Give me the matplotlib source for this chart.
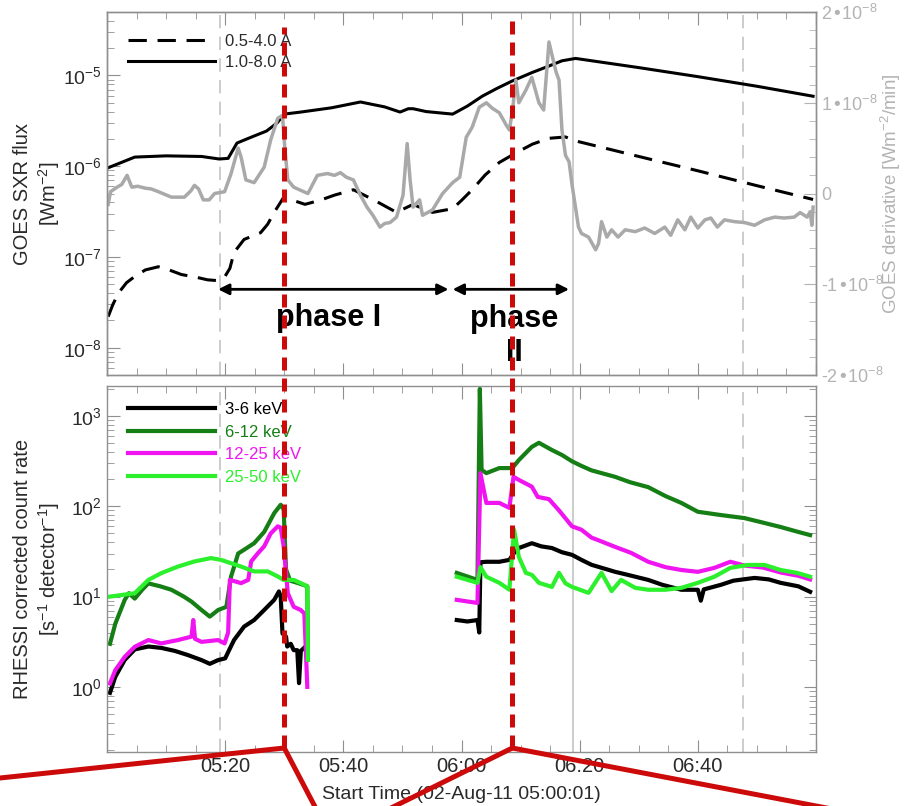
import matplotlib
matplotlib.use("Agg")
import matplotlib.pyplot as plt
import matplotlib.transforms as mtransforms
from matplotlib.lines import Line2D
from matplotlib.patches import ConnectionPatch
from matplotlib.ticker import LogLocator, MultipleLocator, FixedLocator, NullFormatter

import numpy as np

plt.rcParams["font.family"] = ["Liberation Sans", "DejaVu Sans"]
plt.rcParams["mathtext.default"] = "regular"

# minutes after 05:00 UT, 02-Aug-2011
# GOES 1-8 A flux (W m^-2)
t_long = [0, 4.7, 10, 16, 19, 20.5, 22, 24.5, 27, 28.8, 30, 32.8, 38, 42.9, 47, 49.6, 51,
          51.8, 54, 58.5, 61, 63.5, 66, 68.6, 72, 74.8, 77, 79.3, 90, 100, 110, 119.5]
goes_long = [0.95e-6, 1.26e-6, 1.3e-6, 1.28e-6, 1.2e-6, 1.22e-6, 1.8e-6, 2.1e-6, 2.44e-6, 3.0e-6,
             3.75e-6, 3.95e-6, 4.4e-6, 5.1e-6, 4.5e-6, 3.95e-6, 4.3e-6, 4.3e-6, 4.0e-6, 3.75e-6,
             4.6e-6, 5.9e-6, 7.2e-6, 8.7e-6, 1.08e-5, 1.27e-5, 1.45e-5, 1.54e-5, 1.22e-5, 9.7e-6,
             7.6e-6, 5.9e-6]

# GOES 0.5-4 A flux (W m^-2)
t_short = [0.2, 1, 2, 3.3, 4.7, 6.5, 8.7, 10.5, 12.6, 15, 17, 18.5, 19.9, 20.8, 21.5, 23.2, 26,
           27.2, 28.3, 30, 31.5, 33.5, 36, 38.5, 41.7, 45, 49, 51.8, 53.5, 55.1, 58.5, 60, 61.8,
           64, 66.4, 69.2, 72, 74.8, 77.6, 79.3, 90, 100, 110, 119.5]
goes_short = [2.2e-8, 3.0e-8, 4.05e-8, 5.2e-8, 6.1e-8, 7.2e-8, 7.8e-8, 7.2e-8, 6.4e-8, 6.0e-8,
              5.6e-8, 5.5e-8, 6.0e-8, 7.5e-8, 1.12e-7, 1.56e-7, 1.85e-7, 2.3e-7, 3.1e-7, 4.65e-7,
              4.2e-7, 3.8e-7, 4.2e-7, 4.8e-7, 5.5e-7, 4.3e-7, 3.1e-7, 3.8e-7, 3.4e-7, 3.1e-7,
              3.4e-7, 4.2e-7, 5.5e-7, 8.0e-7, 1.1e-6, 1.4e-6, 1.75e-6, 2.03e-6, 2.1e-6, 1.9e-6,
              1.28e-6, 8.9e-7, 6.1e-7, 4.3e-7]

# time derivative of the 1-8 A flux, in units of 1e-8 W m^-2 / min
t_deriv = [0.2, 0.6, 1.7, 2.5, 3.4, 4.2, 5.2, 6.4, 7.5, 8.7, 10.9, 13.1, 14.2, 14.8, 15.5, 16.3,
           17.3, 18.2, 19.9, 21.0, 22.2, 22.7, 23.5, 24.9, 26.6, 27.7, 28.9, 29.7, 30.1, 30.6,
           31.6, 33.3, 34.0, 35.6, 37.3, 38.5, 39.5, 40.5, 41.7, 42.9, 44.0, 45.0, 46.2, 47.0,
           47.9, 49.0, 50.1, 50.8, 51.3, 51.8, 52.9, 53.4, 55.1, 56.8, 58.5, 59.7, 60.8, 61.8,
           63.0, 64.2, 65.2, 66.4, 67.6, 68.1, 68.6, 69.2, 69.7, 70.9, 71.9, 73.1, 73.9, 74.8,
           75.3, 76.0, 76.5, 77.0, 77.6, 78.2, 78.7, 79.8, 80.3, 81.5, 82.7, 83.2, 83.7, 84.6,
           85.4, 86.5, 87.7, 89.4, 91.0, 92.7, 94.4, 95.4, 96.6, 97.8, 98.8, 100.0, 101.2, 102.2,
           103.3, 104.5, 106.2, 107.9, 109.6, 111.3, 113.0, 114.6, 116.3, 117.3, 118.5, 119.0,
           119.3, 119.5]
deriv_e8 = [-0.12, 0.02, 0.07, 0.1, 0.2, 0.07, 0.08, 0.06, 0.05, 0.02, -0.04, -0.04, 0.03, 0.09,
            0.05, -0.07, -0.07, 0.0, 0.02, 0.22, 0.5, 0.4, 0.15, 0.12, 0.29, 0.59, 0.83, 0.86,
            0.5, 0.15, 0.07, 0.02, 0.0, 0.2, 0.22, 0.2, 0.23, 0.18, 0.15, -0.02, -0.15, -0.24,
            -0.37, -0.33, -0.32, -0.26, -0.02, 0.55, 0.15, -0.15, -0.07, -0.24, -0.18, 0.0, 0.12,
            0.18, 0.62, 0.73, 0.95, 1.0, 0.94, 0.89, 0.75, 0.7, 0.9, 1.25, 1.0, 1.14, 1.28, 1.0,
            0.92, 1.67, 1.53, 1.34, 1.25, 0.7, 0.42, 0.35, 0.1, -0.37, -0.44, -0.48, -0.62, -0.55,
            -0.31, -0.48, -0.4, -0.48, -0.4, -0.42, -0.38, -0.44, -0.37, -0.46, -0.29, -0.4,
            -0.26, -0.38, -0.29, -0.27, -0.37, -0.29, -0.31, -0.32, -0.35, -0.29, -0.26, -0.27,
            -0.26, -0.21, -0.26, -0.2, -0.35, -0.15]

# RHESSI corrected count rates (s^-1 detector^-1); None marks the data gap
t_3_6 = [0.5, 1.4, 3, 4.7, 7, 9.2, 11.5, 13.7, 16, 17.4, 18.8, 20, 20.4, 21.5, 23.2, 24.9, 26.6,
         28.3, 29.1, 29.4, 29.7, 30.3, 30.5, 31.1, 31.6, 32.2, 32.5, 32.8, 33.6, 33.9, None,
         59.2, 61, 62.7, 63, 63.2, 64.2, 66.4, 68.1, 68.8, 69.7, 71.9, 73.5, 75.3, 77, 78.7,
         80.3, 82, 86, 88, 91.6, 94, 97.2, 100, 100.5, 101, 103.9, 106, 109.6, 112, 114, 117, 119]
rate_3_6 = [0.86, 1.29, 1.99, 2.6, 2.8, 2.7, 2.5, 2.25, 1.98, 1.8, 1.98, 2.07, 2.35, 3.3, 4.65,
            5.5, 7.1, 9.2, 11.4, 10, 3.9, 3.6, 2.8, 3.0, 2.55, 2.55, 1.1, 2.5, 2.8, 2.0, None,
            5.5, 5.3, 5.5, 4.0, 24, 24.3, 24.3, 25.5, 30, 34.5, 39, 36, 34.5, 31, 29, 25.5, 22.5,
            18.8, 17.5, 15.3, 13.5, 11.9, 11.9, 9, 12, 13.5, 15, 16.1, 15.5, 14.2, 13, 11.3]

t_6_12 = [0.5, 1.4, 3, 3.7, 4.7, 6, 7, 9, 10.9, 13, 14.3, 16, 17.4, 18.8, 20.2, 21, 22.2, 23.2,
          24.9, 26.6, 28.3, 29.4, 29.9, 30.3, 31, 32.5, 33.9, 34.0, None,
          59.2, 62.7, 63.1, 63.4, 64.2, 66.4, 68.6, 69.7, 71.9, 73.1, 75.3, 77, 78.7, 80.3, 82,
          86, 88.5, 91.6, 94.5, 97.2, 100, 103.9, 107.9, 111, 114, 117, 119]
rate_6_12 = [3.0, 5.0, 9.2, 10.9, 9.5, 12, 14, 13, 11.9, 10, 8.8, 7.1, 6.0, 7.1, 7.7, 16.7, 30,
             33, 39, 52, 84, 104, 92, 20, 15, 14, 13, 2, None,
             18.3, 15.3, 2000, 253, 233, 265, 265, 325, 455, 505, 420, 370, 315, 280, 250, 212,
             185, 163, 130, 109, 87, 80, 74, 66, 59, 52, 48]

t_12_25 = [0.5, 1.4, 3, 4.7, 7, 9.2, 12, 14.3, 14.6, 14.9, 16, 18.8, 19.9, 20.5, 20.8, 22.7,
           23.9, 24.4, 25.5, 26.6, 27.7, 28.9, 29.4, 29.9, 30.6, 31.6, 32.8, 33.4, 33.9, None,
           59.2, 62.7, 63.2, 64.2, 66.4, 68.1, 68.8, 69.7, 71.9, 72.9, 74.8, 76.5, 78.7, 80.3,
           82, 83.2, 86, 88.7, 91.6, 94.5, 97.2, 100, 102.8, 105.5, 108, 111, 114, 117, 119]
rate_12_25 = [1.09, 1.53, 2.15, 2.78, 3.3, 3.03, 3.3, 3.6, 5.5, 3.4, 3.15, 3.3, 3.03, 4, 15.3,
              14.1, 15.3, 24.5, 30, 36, 50, 60, 58, 36, 10.9, 7.7, 7.1, 6.5, 1.0, None,
              9.2, 8.5, 233, 109, 109, 96, 212, 196, 165, 127, 120, 90, 60, 55, 45, 42, 35.5,
              30.5, 24.3, 21.2, 19.7, 18.8, 20.8, 24.3, 22, 21, 18.5, 17, 15.5]

t_25_50 = [0.5, 4.7, 7, 9.2, 12, 14.8, 17.6, 19.3, 21, 22.7, 24.9, 27.2, 28.9, 29.9, 31.6, 32.8,
           33.9, 34.0, None,
           59.2, 62.7, 63.2, 64.2, 66.4, 68.1, 68.9, 69.7, 70.9, 71.9, 73.1, 75.3, 76.5, 77.6,
           78.7, 81.5, 83.7, 85.4, 87, 89.4, 91.6, 94.5, 97.2, 100, 102.8, 105.5, 108.4, 111.3,
           114, 116.8, 119]
rate_25_50 = [10, 10.9, 15.3, 18.2, 21.5, 24.5, 26.7, 25.5, 23.4, 21.5, 19, 19, 16.7, 15.3, 15.3,
              14.1, 13, 2, None,
              16.6, 14.2, 21.2, 16.6, 14.2, 11.9, 55, 27.5, 18.3, 17.4, 14.2, 12.8, 18.3, 14,
              12.8, 11, 18.3, 11.5, 15.3, 12.5, 11.9, 11.9, 12.5, 14.2, 16.6, 20.8, 22.4, 22.4,
              19.7, 18.3, 16.6]

# reference times (minutes after 05:00)
t_dashed = [19.2, 107.7]
t_solid = 78.8
t_marks = [30.0, 68.6]

frame_col = "#8f8f8f"
label_col = "#2a2a2a"
deriv_col = "#a9a9a9"
red = "#cc0a0a"


def as_float(values):
    return np.array([np.nan if v is None else v for v in values], dtype=float)


def style_axis(ax):
    for sp in ax.spines.values():
        sp.set_color(frame_col)
        sp.set_linewidth(1.0)
    ax.tick_params(which="both", direction="in", color=frame_col, labelcolor=label_col,
                   labelsize=14)
    ax.tick_params(which="major", length=9)
    ax.tick_params(which="minor", length=5)


def add_time_lines(ax):
    for t in t_dashed:
        ax.axvline(t, color="#c4c4c4", lw=1.2, ls=(0, (8, 5)), zorder=0.5)
    ax.axvline(t_solid, color="#c4c4c4", lw=1.2, zorder=0.5)


fig = plt.figure(figsize=(9.06, 8.06), dpi=100)
ax1 = fig.add_axes([0.1181, 0.5347, 0.7826, 0.4504])
ax2 = fig.add_axes([0.1181, 0.067, 0.7826, 0.4541], sharex=ax1)

# ---- GOES panel ----
ax1.set_yscale("log")
add_time_lines(ax1)
ax1.plot(t_short, goes_short, color="black", lw=2.2, ls=(0, (6, 3.5)), label="0.5-4.0 A")
ax1.plot(t_long, goes_long, color="black", lw=2.2, label="1.0-8.0 A")
ax1.set_ylim(5e-9, 5e-5)
ax1.yaxis.set_major_locator(LogLocator(base=10, numticks=10))
ax1.yaxis.set_minor_locator(LogLocator(base=10, subs=np.arange(2, 10), numticks=10))
ax1.yaxis.set_minor_formatter(NullFormatter())
style_axis(ax1)
ax1.tick_params(which="both", top=True, right=False, labelbottom=False)
ax1.set_ylabel("GOES SXR flux\n[Wm$^{-2}$]", fontsize=14.5, color=label_col)
ax1.yaxis.set_label_coords(-0.064, 0.5)

leg1 = ax1.legend(loc="upper left", bbox_to_anchor=(0.02, 0.958), frameon=False, fontsize=12,
                  handlelength=5.2, handletextpad=0.6, labelspacing=0.35, borderaxespad=0)
for txt in leg1.get_texts():
    txt.set_color(label_col)

arrow_y = 4.4e-8
ax1.annotate("", xy=(18.8, arrow_y), xytext=(57.8, arrow_y),
             arrowprops=dict(arrowstyle="<|-|>", color="black", lw=2, mutation_scale=16,
                             shrinkA=0, shrinkB=0))
ax1.annotate("", xy=(58.5, arrow_y), xytext=(78.2, arrow_y),
             arrowprops=dict(arrowstyle="<|-|>", color="black", lw=2, mutation_scale=16,
                             shrinkA=0, shrinkB=0))
ax1.text(37.5, 2.1e-8, "phase I", ha="center", va="center", fontsize=22, fontweight="bold")
ax1.text(68.9, 1.35e-8, "phase\nII", ha="center", va="center", fontsize=22, fontweight="bold",
         linespacing=1.15)

# derivative on the right-hand axis
ax1b = ax1.twinx()
ax1b.plot(t_deriv, np.array(deriv_e8) * 1e-8, color=deriv_col, lw=2.5)
ax1b.set_ylim(-2e-8, 2e-8)
deriv_ticks = [-2e-8, -1e-8, 0, 1e-8, 2e-8]
ax1b.yaxis.set_major_locator(FixedLocator(deriv_ticks))
ax1b.set_yticklabels(["-2•10$^{-8}$", "-1•10$^{-8}$", "0", "1•10$^{-8}$", "2•10$^{-8}$"])
ax1b.yaxis.set_minor_locator(MultipleLocator(0.2e-8))
style_axis(ax1b)
ax1b.tick_params(which="both", labelcolor="#b3b3b3", color="#b3b3b3", labelsize=13)
ax1b.set_ylabel("GOES derivative [Wm$^{-2}$/min]", fontsize=13.5, color="#b3b3b3",
                rotation=90)
ax1b.yaxis.set_label_coords(1.089, 0.5)

# ---- RHESSI panel ----
ax2.set_yscale("log")
add_time_lines(ax2)
bands = [
    (t_3_6, rate_3_6, "black", "3-6 keV"),
    (t_6_12, rate_6_12, "#157f15", "6-12 keV"),
    (t_12_25, rate_12_25, "#f014f0", "12-25 keV"),
    (t_25_50, rate_25_50, "#2cf02c", "25-50 keV"),
]
for tt, rr, col, lab in bands:
    ax2.plot(as_float(tt), as_float(rr), color=col, lw=3, label=lab)
ax2.set_ylim(0.19, 2.15e3)
ax2.set_xlim(0, 120)
ax2.yaxis.set_major_locator(LogLocator(base=10, numticks=10))
ax2.yaxis.set_minor_locator(LogLocator(base=10, subs=np.arange(2, 10), numticks=10))
ax2.yaxis.set_minor_formatter(NullFormatter())
style_axis(ax2)
ax2.tick_params(which="both", top=True, right=True)
ax2.tick_params(axis="x", labelsize=14.5)
ax2.xaxis.set_major_locator(FixedLocator([0, 20, 40, 60, 80, 100, 120]))
ax2.xaxis.set_minor_locator(MultipleLocator(5))
ax2.set_xticklabels(["", "05:20", "05:40", "06:00", "06:20", "06:40", ""])
ax2.set_xlabel("Start Time (02-Aug-11 05:00:01)", fontsize=14, color=label_col, labelpad=7)
ax2.set_ylabel("RHESSI corrected count rate\n[s$^{-1}$ detector$^{-1}$]", fontsize=14.5,
               color=label_col)
ax2.yaxis.set_label_coords(-0.064, 0.5)

ax2.legend(loc="upper left", bbox_to_anchor=(0.02, 0.974), frameon=False, fontsize=12,
           handlelength=5.2, handletextpad=0.6, labelspacing=0.45, borderaxespad=0,
           labelcolor="linecolor")

# ---- red markers and zoom lines ----
blend = mtransforms.blended_transform_factory(ax2.transData, fig.transFigure)
y_vertex = 1 - 748 / 806
for t, y_top in zip(t_marks, [1 - 27 / 806, 1 - 17 / 806]):
    fig.add_artist(Line2D([t, t], [y_vertex, y_top], transform=blend, color=red, lw=3.6,
                          ls=(0, (2.6, 1.6)), zorder=20))

zoom_ends = [
    (t_marks[0], (0.0, 1 - 778 / 806)),
    (t_marks[0], (318 / 906, -0.008)),
    (t_marks[1], (382 / 906, -0.008)),
    (t_marks[1], (850 / 906, -0.008)),
]
for t, end in zoom_ends:
    cp = ConnectionPatch(xyA=(t, y_vertex), coordsA=blend, xyB=end, coordsB=fig.transFigure,
                         color=red, lw=3.6, zorder=20, capstyle="round")
    fig.add_artist(cp)

fig.savefig("out.png", dpi=100, facecolor="white")
